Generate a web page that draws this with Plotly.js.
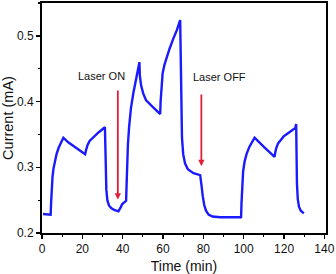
<!DOCTYPE html>
<html>
<head>
<meta charset="utf-8">
<script src="https://cdn.plot.ly/plotly-3.0.1.min.js"></script>
<style>html,body{margin:0;padding:0;background:#fff;}#chart{width:336px;height:274px;}</style>
</head>
<body>
<div id="chart"></div>
<script>
const timeMin = [0.5, 4.3, 4.5, 4.8, 5.2, 5.7, 6.3, 7.2, 8.3, 9.4, 10.6, 13, 15.6, 18.5, 21.4, 21.9, 22.6, 23.6, 25.5, 28, 31.2, 31.4, 31.6, 31.9, 32.4, 33.2, 34.3, 35.8, 37.9, 38.4, 39.0, 39.8, 40.7, 41.7, 41.9, 42.2, 42.6, 43.2, 44.1, 45.3, 46.6, 47.6, 48.3, 48.5, 49.1, 50.2, 51.6, 54.5, 58.6, 58.8, 59.2, 59.8, 60.7, 61.8, 63.2, 65, 66.9, 68.5, 68.7, 69.0, 69.4, 70.0, 70.9, 72.3, 75.1, 78.4, 78.7, 79.1, 79.7, 80.4, 81.3, 82.6, 84.5, 88.4, 98.3, 98.7, 98.9, 99.2, 99.7, 100.4, 101.4, 102.8, 104.2, 105.4, 110, 115.3, 115.6, 116.1, 117, 118.3, 119.8, 122.5, 125.6, 126.0, 126.1, 126.4, 126.8, 127.4, 128.3, 129.8];
const currentMA = [0.229, 0.228, 0.245, 0.268, 0.285, 0.298, 0.309, 0.320, 0.330, 0.338, 0.345, 0.338, 0.332, 0.326, 0.320, 0.327, 0.334, 0.340, 0.346, 0.353, 0.361, 0.330, 0.295, 0.266, 0.250, 0.242, 0.238, 0.235, 0.233, 0.235, 0.239, 0.244, 0.247, 0.249, 0.270, 0.305, 0.335, 0.362, 0.390, 0.413, 0.433, 0.447, 0.460, 0.440, 0.425, 0.412, 0.402, 0.393, 0.381, 0.400, 0.425, 0.443, 0.456, 0.467, 0.480, 0.495, 0.509, 0.524, 0.460, 0.390, 0.345, 0.320, 0.306, 0.297, 0.291, 0.288, 0.283, 0.272, 0.256, 0.243, 0.234, 0.228, 0.225, 0.224, 0.224, 0.223, 0.245, 0.272, 0.293, 0.308, 0.320, 0.331, 0.339, 0.345, 0.331, 0.316, 0.322, 0.329, 0.336, 0.342, 0.347, 0.353, 0.360, 0.366, 0.320, 0.275, 0.252, 0.240, 0.234, 0.230];

// Arrow annotations
const arrowLabels = ["Laser ON", "Laser OFF"];
const arrowX = [37.6, 79.0];
const arrowTop = [0.419, 0.413];
const arrowBottom = [0.251, 0.302];
const labelX = [29.3, 88.2];
const labelY = [0.439, 0.438];

const annotations = [];
for (let i = 0; i < arrowLabels.length; i++) {
  annotations.push({
    x: arrowX[i], y: arrowBottom[i], ax: arrowX[i], ay: arrowTop[i],
    xref: 'x', yref: 'y', axref: 'x', ayref: 'y',
    showarrow: true, arrowhead: 2, arrowsize: 0.7, arrowwidth: 1.8,
    arrowcolor: '#e0203a', text: ''
  });
  annotations.push({
    x: labelX[i], y: labelY[i], xref: 'x', yref: 'y',
    text: arrowLabels[i], showarrow: false,
    font: {family: 'Liberation Sans, Arial, sans-serif', size: 11, color: '#111'}
  });
}

const data = [{
  x: timeMin, y: currentMA, type: 'scatter', mode: 'lines',
  line: {color: '#1a1aff', width: 2.4}
}];

const layout = {
  width: 336, height: 274,
  margin: {l: 42, r: 10, t: 3, b: 41},
  paper_bgcolor: '#fff', plot_bgcolor: '#fff',
  showlegend: false,
  font: {family: 'Liberation Sans, Arial, sans-serif', size: 12, color: '#111'},
  xaxis: {
    range: [0, 140.8], tickvals: [0, 20, 40, 60, 80, 100, 120, 140],
    ticks: 'outside', ticklen: 4, tickwidth: 1.5, tickcolor: '#000',
    minor: {dtick: 10, ticks: 'outside', ticklen: 2, tickwidth: 1.2, tickcolor: '#000'},
    showline: true, linewidth: 2, linecolor: '#000', mirror: true,
    showgrid: false, zeroline: false,
    tickfont: {size: 12},
    title: {text: 'Time (min)', font: {size: 14}, standoff: 8}
  },
  yaxis: {
    range: [0.2, 0.55], tickvals: [0.2, 0.3, 0.4, 0.5],
    ticks: 'outside', ticklen: 4, tickwidth: 1.5, tickcolor: '#000',
    minor: {dtick: 0.05, ticks: 'outside', ticklen: 2, tickwidth: 1.2, tickcolor: '#000'},
    showline: true, linewidth: 2, linecolor: '#000', mirror: true,
    showgrid: false, zeroline: false,
    tickfont: {size: 12},
    title: {text: 'Current (mA)', font: {size: 14.5}, standoff: 4}
  },
  annotations: annotations
};

Plotly.newPlot('chart', data, layout, {displayModeBar: false, staticPlot: true});
</script>
</body>
</html>
